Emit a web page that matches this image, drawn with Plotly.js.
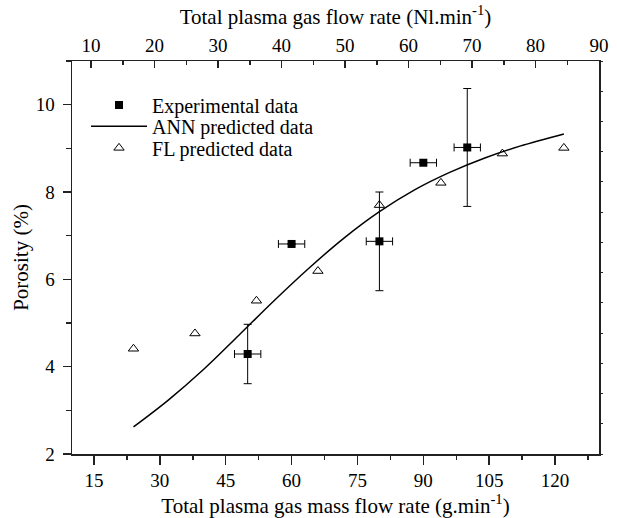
<!DOCTYPE html>
<html>
<head>
<meta charset="utf-8">
<script src="https://cdn.plot.ly/plotly-3.0.1.min.js"></script>
<style>html,body{margin:0;padding:0;background:#fff;}#chart{width:617px;height:518px;}</style>
</head>
<body>
<div id="chart"></div>
<script>
// Experimental data (mass flow g/min, porosity %)
var expX = [50, 60, 80, 90, 100];
var expY = [4.29, 6.81, 6.87, 8.67, 9.02];
var expErrX = [3, 3, 3, 3, 3];
var expErrY = [0.68, 0, 1.13, 0, 1.35];

// ANN predicted curve
var annX = [24, 32, 40, 48, 56, 64, 72, 80, 88, 96, 104, 112, 122];
var annY = [2.62, 3.24, 3.94, 4.72, 5.51, 6.26, 6.95, 7.55, 8.05, 8.45, 8.78, 9.05, 9.33];

// FL predicted data
var flX = [24, 38, 52, 66, 80, 94, 108, 122];
var flY = [4.41, 4.76, 5.51, 6.19, 7.70, 8.21, 8.88, 9.01];

function F(size) {
  return {family: 'Liberation Serif', size: size, color: '#000'};
}

var traces = [
  {
    x: expX, y: expY, type: 'scatter', mode: 'markers', name: 'Experimental data', legend: 'legend',
    marker: {symbol: 'square', size: 8, color: '#000'},
    error_x: {type: 'data', array: expErrX, visible: true, color: '#000', thickness: 1, width: 4},
    error_y: {type: 'data', array: expErrY, visible: true, color: '#000', thickness: 1, width: 4}
  },
  {
    x: annX, y: annY, type: 'scatter', mode: 'lines', name: 'ANN predicted data', legend: 'legend2',
    line: {color: '#000', width: 1.5, shape: 'spline', smoothing: 1}
  },
  {
    x: flX, y: flY, type: 'scatter', mode: 'markers', name: 'FL predicted data', legend: 'legend3',
    marker: {symbol: 'triangle-up-open', size: 9, color: '#000', line: {width: 1, color: '#000'}}
  },
  {x: [], y: [], xaxis: 'x2', yaxis: 'y', type: 'scatter', showlegend: false, hoverinfo: 'skip'},
  {x: [], y: [], xaxis: 'x', yaxis: 'y2', type: 'scatter', showlegend: false, hoverinfo: 'skip'}
];

function leg(yc) {
  return {x: 0.0266, y: yc, xanchor: 'left', yanchor: 'middle', bgcolor: 'rgba(0,0,0,0)',
          font: F(20), itemwidth: 56, borderwidth: 0};
}

var NB = '\u00a0';

var layout = {
  width: 617, height: 518,
  margin: {l: 72, r: 18, t: 61, b: 64},
  paper_bgcolor: '#fff', plot_bgcolor: '#fff',
  font: F(19),
  showlegend: true,
  legend: leg(0.888),
  legend2: leg(0.834),
  legend3: leg(0.779),
  xaxis: {
    range: [10, 130], tick0: 15, dtick: 15, ticks: 'outside', ticklen: 9, tickwidth: 1.5, tickcolor: '#222',
    minor: {dtick: 7.5, tick0: 7.5, ticks: 'outside', ticklen: 4, tickwidth: 1.5, tickcolor: '#222'},
    showline: true, linecolor: '#222', linewidth: 1.5, showgrid: false, zeroline: false,
    title: {text: 'Total plasma gas mass flow rate (g.min<sup>-1</sup>)' + NB + NB, font: F(21), standoff: 4},
    tickfont: F(19)
  },
  xaxis2: {
    overlaying: 'x', side: 'top', anchor: 'y',
    range: [7, 90], tick0: 10, dtick: 10, ticks: 'inside', ticklen: 7, tickwidth: 1.5, tickcolor: '#222',
    minor: {dtick: 5, tick0: 5, ticks: 'inside', ticklen: 4, tickwidth: 1.5, tickcolor: '#222'},
    showline: true, linecolor: '#222', linewidth: 1.5, showgrid: false, zeroline: false,
    title: {text: NB + NB + NB + NB + 'Total plasma gas flow rate (Nl.min<sup>-1</sup>)', font: F(21), standoff: 4},
    tickfont: F(19)
  },
  yaxis: {
    range: [2, 11], tick0: 2, dtick: 2, ticks: 'outside', ticklen: 8, tickwidth: 1.5, tickcolor: '#222',
    minor: {dtick: 1, tick0: 1, ticks: 'outside', ticklen: 5, tickwidth: 1.5, tickcolor: '#222'},
    showline: true, linecolor: '#222', linewidth: 1.5, showgrid: false, zeroline: false,
    ticklabelstandoff: 4,
    title: {text: 'Porosity (%)' + NB + NB + NB, font: F(21), standoff: 1},
    tickfont: F(19)
  },
  yaxis2: {
    overlaying: 'y', side: 'right', anchor: 'x',
    range: [0, 13], dtick: 1, ticks: 'outside', ticklen: 2, tickwidth: 1, tickcolor: '#222',
    showticklabels: false, showline: true, linecolor: '#222', linewidth: 1.5, showgrid: false, zeroline: false
  }
};

Plotly.newPlot('chart', traces, layout, {displayModeBar: false, staticPlot: true});
</script>
</body>
</html>
